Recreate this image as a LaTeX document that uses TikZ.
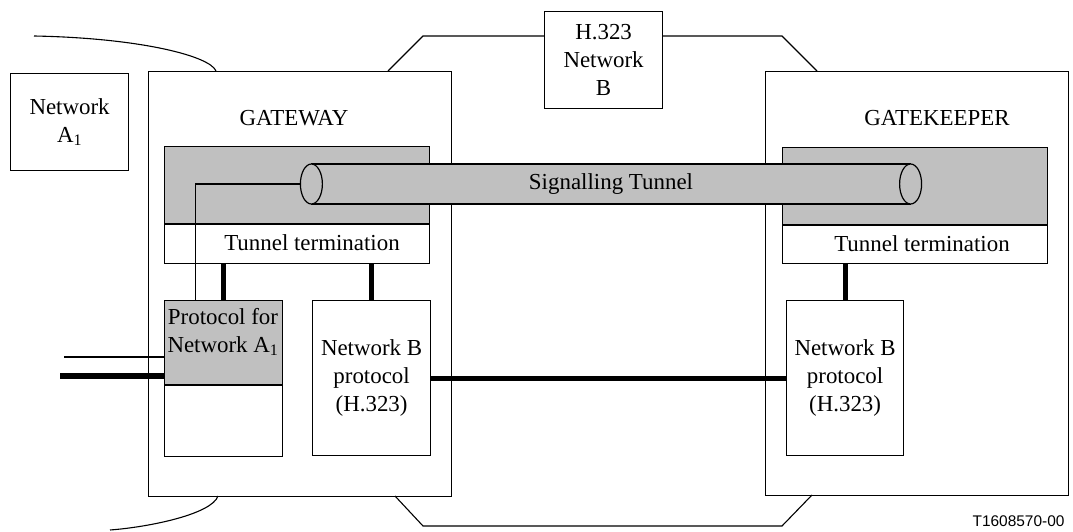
\documentclass[tikz,border=0pt]{standalone}
\usepackage{fontspec}
\setmainfont{Liberation Serif}
\newfontfamily\fignumfont{Liberation Sans}
\usetikzlibrary{shapes.geometric}

\definecolor{tunnelgray}{RGB}{192,192,192}

\begin{document}
\begin{tikzpicture}[
    x=1bp, y=-1bp,
    every node/.style={font=\fontsize{23}{28}\selectfont, align=center},
    box/.style={draw, line width=1.2bp, fill=white, inner sep=0pt, anchor=north west},
    graybox/.style={box, fill=tunnelgray},
    link/.style={line width=5bp},
    wire/.style={line width=1.1bp},
    tube/.style={draw, line width=1.2bp, fill=tunnelgray, inner sep=0pt},
    tubeend/.style={ellipse, draw, line width=1.2bp, fill=tunnelgray,
        inner sep=0pt, minimum width=22bp, minimum height=40bp}
  ]
  \useasboundingbox (0,0) rectangle (1073,532);

  % networks
  \node[box, minimum width=118bp, minimum height=97bp] (neta) at (10,73) {Network\\A\textsubscript{1}};
  \node[box, minimum width=118bp, minimum height=97bp] (netb) at (544,11) {H.323\\Network\\B};

  % gateway and gatekeeper
  \node[box, minimum width=303bp, minimum height=425bp] (gateway) at (148,71) {};
  \node (gwname) at (294,118) {GATEWAY};
  \node[box, minimum width=303bp, minimum height=424bp] (gatekeeper) at (765,71) {};
  \node (gkname) at (937,118) {GATEKEEPER};

  % network A links
  \coordinate (netAup) at (34,36);
  \coordinate (gwup) at (216,71);
  \coordinate (netAdown) at (110,530);
  \coordinate (gwdown) at (218,496);
  \draw[wire] (netAup) .. controls (140,38) and (210,56) .. (gwup);
  \draw[wire] (gwdown) .. controls (212,514) and (150,527) .. (netAdown);

  % network B links
  \coordinate (octa) at (388,71);
  \coordinate (octb) at (423,36);
  \coordinate (octc) at (782,36);
  \coordinate (octd) at (817,71);
  \coordinate (octe) at (395,496);
  \coordinate (octf) at (423,526);
  \coordinate (octg) at (782,526);
  \coordinate (octh) at (812,495);
  \draw[wire] (octa) -- (octb) -- (octb -| netb.west);
  \draw[wire] (octb -| netb.east) -- (octc) -- (octd);
  \draw[wire] (octe) -- (octf) -- (octg) -- (octh);

  % tunnel terminations
  \node[graybox, minimum width=265bp, minimum height=77bp] (gwtun) at (164,146) {};
  \node[box, minimum width=265bp, minimum height=39bp] (gwterm) at (gwtun.south west) {};
  \node (gwtermtxt) at (312,243) {Tunnel termination};
  \node[graybox, minimum width=265bp, minimum height=77bp] (gktun) at (782,147) {};
  \node[box, minimum width=265bp, minimum height=38bp] (gkterm) at (gktun.south west) {};
  \node (gktermtxt) at (922,244) {Tunnel termination};

  % protocols
  \node[graybox, minimum width=118bp, minimum height=84bp] (protA) at (164,300) {};
  \node[box, minimum width=118bp, minimum height=71bp] (protAlow) at (protA.south west) {};
  \node (protAtxt) at (223,332) {Protocol for\\Network A\textsubscript{1}};
  \node[box, minimum width=118bp, minimum height=155bp] (gwprotB) at (312,300) {Network B\\protocol\\(H.323)};
  \node[box, minimum width=117bp, minimum height=155bp] (gkprotB) at (786,300) {Network B\\protocol\\(H.323)};

  % thick links
  \coordinate (linkA) at (60,376);
  \coordinate (sigA) at (64,357);
  \draw[link] (protA.north) -- (protA.north |- gwterm.south);
  \draw[link] (gwprotB.north) -- (gwprotB.north |- gwterm.south);
  \draw[link] (gkprotB.north) -- (gkprotB.north |- gkterm.south);
  \draw[link] (linkA) -- (linkA -| protA.west);
  \draw[link] (gwprotB.east) -- (gwprotB.east -| gkprotB.west);
  \draw[wire] (sigA) -- (sigA -| protA.west);

  % signalling tunnel
  \node[tube, minimum width=598bp, minimum height=40bp] (tube) at (611,184) {Signalling Tunnel};
  \node[tubeend] (tubeL) at (tube.west) {};
  \node[tubeend] (tubeR) at (tube.east) {};
  \draw[wire] (tubeL.west) -| ([xshift=-28bp]protA.north);

  \node[font=\fignumfont\fontsize{15.5}{18}\selectfont, anchor=east] (fignum) at (1068,521) {T1608570-00};
\end{tikzpicture}
\end{document}
